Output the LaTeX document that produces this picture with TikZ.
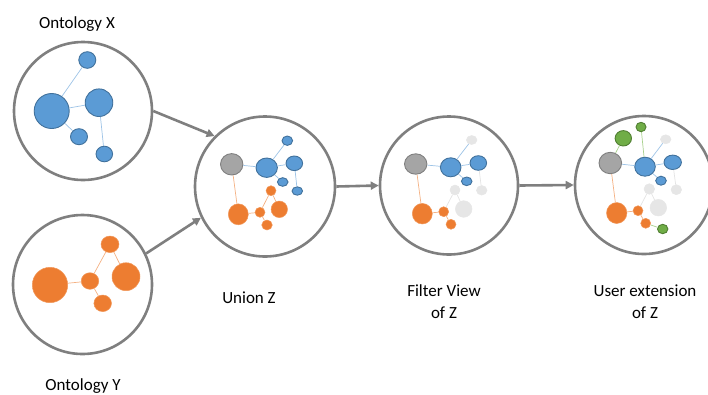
\documentclass[tikz,border=0pt]{standalone}
\usepackage{fontspec}
\setmainfont{Carlito}
\usetikzlibrary{arrows.meta,shapes.geometric}
\definecolor{cgray}{HTML}{7F7F7F}
\definecolor{cblue}{HTML}{5B9BD5}
\definecolor{cbluedk}{HTML}{41719C}
\definecolor{cbluelt}{HTML}{9DC3E6}
\definecolor{corange}{HTML}{ED7D31}
\definecolor{corangelt}{HTML}{F4B183}
\definecolor{cgraynode}{HTML}{A5A5A5}
\definecolor{cfade}{HTML}{E6E6E6}
\definecolor{cfadeln}{HTML}{E3E3E3}
\definecolor{cgreen}{HTML}{70AD47}
\definecolor{cgreendk}{HTML}{507E32}
\definecolor{cgreenlt}{HTML}{A9D18E}
\tikzset{
  bigc/.style={circle, draw=cgray, line width=2.6pt, minimum size=#1, inner sep=0pt},
  bn/.style 2 args={ellipse, fill=cblue, draw=cbluedk, line width=0.9pt, minimum width=#1, minimum height=#2, inner sep=0pt},
  on/.style 2 args={ellipse, fill=corange, draw=corange!80!white, line width=0.5pt, minimum width=#1, minimum height=#2, inner sep=0pt},
  gn/.style 2 args={ellipse, fill=cgraynode, draw=cgray, line width=0.9pt, minimum width=#1, minimum height=#2, inner sep=0pt},
  fn/.style 2 args={ellipse, fill=cfade, draw=cfade, line width=0.5pt, minimum width=#1, minimum height=#2, inner sep=0pt},
  grn/.style 2 args={ellipse, fill=cgreen, draw=cgreendk, line width=0.9pt, minimum width=#1, minimum height=#2, inner sep=0pt},
  bl/.style={draw=cbluelt, line width=0.7pt},
  ol/.style={draw=corangelt, line width=0.7pt},
  fl/.style={draw=cfadeln, line width=0.7pt},
  gl/.style={draw=cgreenlt, line width=0.7pt},
  flow/.style={draw=cgray, line width=2.6pt, -{Triangle[length=8pt,width=8pt]}},
  lab/.style={font=\fontsize{17}{21.7}\selectfont, inner sep=0pt}
}
\begin{document}
\begin{tikzpicture}[x=1pt,y=-1pt]
\useasboundingbox (0,0) rectangle (708,394);
% big circles
\node[bigc=138pt] (X) at (83,111) {};
\node[bigc=139pt] (Y) at (82.5,284.5) {};
\node[bigc=140pt] (U) at (265,186.5) {};
\node[bigc=138pt] (F) at (449,185.5) {};
\node[bigc=138pt] (N) at (644,185) {};
% ontology X
\node[bn={35pt}{35pt}] (x1) at (51.7,111) {};
\node[bn={27.6pt}{27.6pt}] (x2) at (99,102.7) {};
\node[bn={17pt}{16.6pt}] (x3) at (87.3,60) {};
\node[bn={17pt}{16pt}] (x4) at (79,136.7) {};
\node[bn={16.6pt}{15.6pt}] (x5) at (104.3,154) {};
\draw[bl] (x1) -- (x3);
\draw[bl] (x1) -- (x2);
\draw[bl] (x1) -- (x4);
\draw[bl] (x2) -- (x5);
% ontology Y
\node[on={35.4pt}{35.4pt}] (y1) at (50,285) {};
\node[on={17.6pt}{16.6pt}] (y2) at (90,281) {};
\node[on={18pt}{16.6pt}] (y3) at (110,244.3) {};
\node[on={28pt}{28pt}] (y4) at (126,276.7) {};
\node[on={17.6pt}{16.6pt}] (y5) at (102.7,303.3) {};
\draw[ol] (y1) -- (y2);
\draw[ol] (y2) -- (y3);
\draw[ol] (y3) -- (y4);
\draw[ol] (y2) -- (y5);
% union Z
\node[gn={22.4pt}{21.4pt}] (ug) at (231.7,164.3) {};
\node[bn={21.4pt}{19.4pt}] (ub1) at (266.7,167.7) {};
\node[bn={16.6pt}{14.6pt}] (ub2) at (294.3,163.3) {};
\node[bn={10.6pt}{9.4pt}] (ub3) at (287.3,140.7) {};
\node[bn={10.6pt}{8.6pt}] (ub4) at (282.7,182) {};
\node[bn={10.6pt}{8.4pt}] (ub5) at (297.3,191) {};
\node[on={20pt}{21pt}] (uo1) at (238.3,214.3) {};
\node[on={10pt}{10pt}] (uo2) at (260,212.3) {};
\node[on={10pt}{10pt}] (uo3) at (271,190.7) {};
\node[on={16.4pt}{16.6pt}] (uo4) at (279.3,209.3) {};
\node[on={10.6pt}{10pt}] (uo5) at (267,225) {};
\draw[bl] (ug) -- (ub1);
\draw[ol] (ug) -- (uo1);
\draw[bl] (ub1) -- (ub3);
\draw[bl] (ub1) -- (ub2);
\draw[bl] (ub1) -- (ub4);
\draw[bl] (ub2) -- (ub5);
\draw[ol] (uo1) -- (uo2);
\draw[ol] (uo2) -- (uo3);
\draw[ol] (uo3) -- (uo4);
\draw[ol] (uo2) -- (uo5);
% filter view
\node[gn={22.4pt}{20.4pt}] (fg) at (415.7,164) {};
\node[bn={20.6pt}{19pt}] (fb1) at (450.7,167.3) {};
\node[bn={16.6pt}{14.6pt}] (fb2) at (478.3,163) {};
\node[fn={10.6pt}{9pt}] (fb3) at (471.7,140) {};
\node[bn={10.6pt}{8.6pt}] (fb4) at (466.7,181.3) {};
\node[fn={10.6pt}{9.6pt}] (fb5) at (481.7,190.3) {};
\node[on={20pt}{20.6pt}] (fo1) at (422.3,213.7) {};
\node[on={10pt}{10pt}] (fo2) at (443.7,211.7) {};
\node[fn={10pt}{10pt}] (fo3) at (455,190) {};
\node[fn={16.6pt}{16.6pt}] (fo4) at (463.7,209) {};
\node[on={10pt}{10pt}] (fo5) at (451,224.3) {};
\draw[bl] (fg) -- (fb1);
\draw[ol] (fg) -- (fo1);
\draw[bl] (fb1) -- (fb3);
\draw[bl] (fb1) -- (fb2);
\draw[bl] (fb1) -- (fb4);
\draw[fl] (fb2) -- (fb5);
\draw[ol] (fo1) -- (fo2);
\draw[fl] (fo2) -- (fo3);
\draw[fl] (fo3) -- (fo4);
\draw[ol] (fo2) -- (fo5);
% user extension
\node[gn={22.6pt}{21.4pt}] (ng) at (610.3,163) {};
\node[bn={20.6pt}{19pt}] (nb1) at (645,166.7) {};
\node[bn={17.4pt}{14.4pt}] (nb2) at (672.7,162.3) {};
\node[fn={10.6pt}{9pt}] (nb3) at (665.7,139.3) {};
\node[bn={10.6pt}{9pt}] (nb4) at (661,180.7) {};
\node[fn={10.6pt}{10pt}] (nb5) at (676.3,189.7) {};
\node[on={20.4pt}{21pt}] (no1) at (616.7,213) {};
\node[on={10pt}{10pt}] (no2) at (638,210.7) {};
\node[fn={10.6pt}{10.6pt}] (no3) at (649.3,189) {};
\node[fn={16.6pt}{16.6pt}] (no4) at (658.3,207.7) {};
\node[on={10pt}{10pt}] (no5) at (645.7,223.3) {};
\node[grn={16.4pt}{15.4pt}] (ngr1) at (623.3,138.3) {};
\node[grn={10pt}{9.4pt}] (ngr2) at (641,127) {};
\node[grn={10.4pt}{9.4pt}] (ngr3) at (662.7,229) {};
\draw[bl] (ng) -- (nb1);
\draw[ol] (ng) -- (no1);
\draw[bl] (nb1) -- (nb3);
\draw[bl] (nb1) -- (nb2);
\draw[bl] (nb1) -- (nb4);
\draw[fl] (nb2) -- (nb5);
\draw[ol] (no1) -- (no2);
\draw[fl] (no2) -- (no3);
\draw[fl] (no3) -- (no4);
\draw[ol] (no2) -- (no5);
\draw[gl] (ngr1) -- (ng);
\draw[gl] (ngr2) -- (nb1);
\draw[gl] (no5) -- (ngr3);
% flow arrows
\draw[flow] (X.east) -- (U.135);
\draw[flow] (Y.26) -- (U.206);
\draw[flow] (U.east) -- (F.west);
\draw[flow] (F.east) -- (N.west);
% labels
\node[lab, anchor=base] (tx) at (77,28.5) {Ontology X};
\node[lab, anchor=base] (ty) at (83,390) {Ontology Y};
\node[lab, anchor=base] (tu) at (249,303) {Union Z};
\node[lab, align=center, anchor=base] (tf) at (444,318.3) {Filter View\\of Z};
\node[lab, align=center, anchor=base] (tn) at (645,318) {User extension\\of Z};
\end{tikzpicture}
\end{document}
